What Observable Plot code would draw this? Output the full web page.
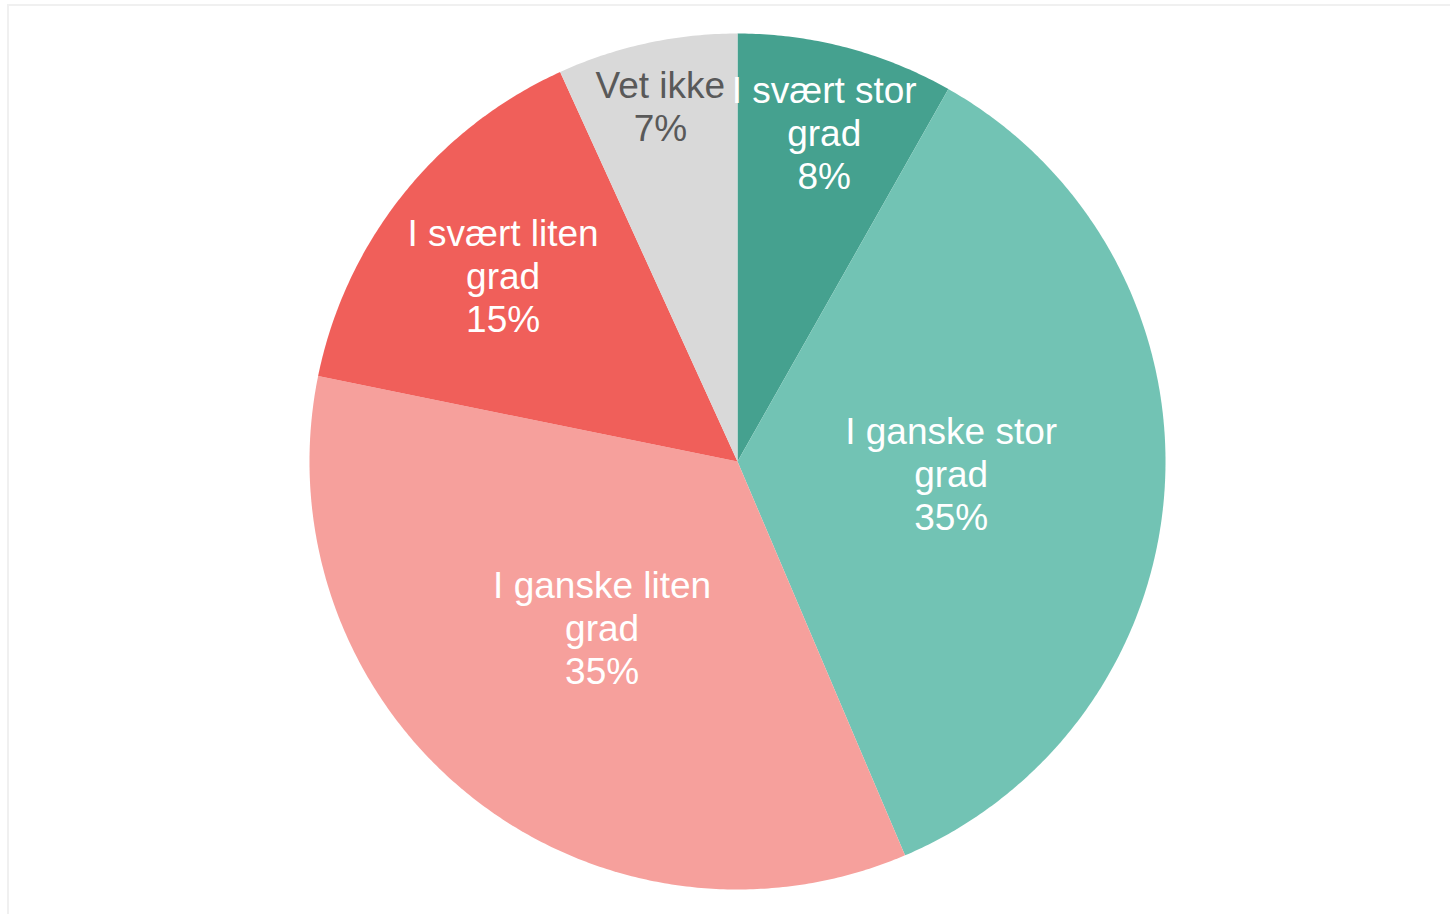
<!DOCTYPE html>
<html>
<head>
<meta charset="utf-8">
<script src="https://cdn.jsdelivr.net/npm/d3@7"></script>
<script src="https://cdn.jsdelivr.net/npm/@observablehq/plot@0.6"></script>
<style>
  html, body { margin: 0; padding: 0; background: #fff; overflow: hidden; }
  #wrap { position: relative; width: 1450px; height: 914px; }
  #frame { position: absolute; left: 7px; top: 4px; width: 1460px; height: 930px; border: 2px solid #F0F0F0; box-sizing: border-box; pointer-events: none; }
  #chart { position: absolute; left: 0; top: 0; }
</style>
</head>
<body>
<div id="wrap"><div id="chart"></div><div id="frame"></div></div>
<script>
// Data (clockwise from 12 o'clock)
const categories = ["I svært stor grad", "I ganske stor grad", "I ganske liten grad", "I svært liten grad", "Vet ikke"];
const labelLines = [["I svært stor", "grad"], ["I ganske stor", "grad"], ["I ganske liten", "grad"], ["I svært liten", "grad"], ["Vet ikke"]];
const values = [8.2, 35.4, 34.6, 15.0, 6.8];

// Styling / layout (not data)
const colors = ["#45A18F", "#72C3B4", "#F6A09C", "#F05F5A", "#D9D9D9"];
const textColors = ["#FFFFFF", "#FFFFFF", "#FFFFFF", "#FFFFFF", "#595959"];
const labelRadius = [0.795, 0.50, 0.50, 0.70, 0.85];

const total = d3.sum(values);
const slices = [];
let acc = 0;
values.forEach((v, i) => {
  const a0 = acc / total * 2 * Math.PI;
  acc += v;
  const a1 = acc / total * 2 * Math.PI;
  slices.push({name: categories[i], a0, a1, i});
});

// polygon points for each slice (geometry derived from data angles)
const pts = [];
for (const s of slices) {
  pts.push({name: s.name, x: 0, y: 0});
  const n = Math.max(2, Math.ceil((s.a1 - s.a0) / (Math.PI / 360)));
  for (let k = 0; k <= n; k++) {
    const a = s.a0 + (s.a1 - s.a0) * k / n;
    pts.push({name: s.name, x: Math.sin(a), y: Math.cos(a)});
  }
}

const labels = slices.map(s => {
  const m = (s.a0 + s.a1) / 2;
  const r = labelRadius[s.i];
  return {
    name: s.name,
    x: r * Math.sin(m),
    y: r * Math.cos(m),
    text: [...labelLines[s.i], Math.round(values[s.i]) + "%"].join("\n"),
    color: textColors[s.i]
  };
});

const chart = Plot.plot({
  width: 1450,
  height: 914,
  marginLeft: 309,
  marginRight: 285,
  marginTop: 33,
  marginBottom: 25,
  x: {domain: [-1, 1], axis: null},
  y: {domain: [-1, 1], axis: null},
  color: {domain: categories, range: colors},
  style: {fontFamily: "Arial, 'Liberation Sans', sans-serif", background: "transparent"},
  marks: [
    Plot.line(pts, {x: "x", y: "y", z: "name", fill: "name", stroke: "none", curve: "linear-closed"}),
    Plot.text(labels, {
      x: "x", y: "y", text: "text",
      fill: d => d.color,
      fontSize: 37,
      lineHeight: 1.16,
      textAnchor: "middle",
      lineAnchor: "middle"
    })
  ]
});
document.getElementById("chart").appendChild(chart);
</script>
</body>
</html>
